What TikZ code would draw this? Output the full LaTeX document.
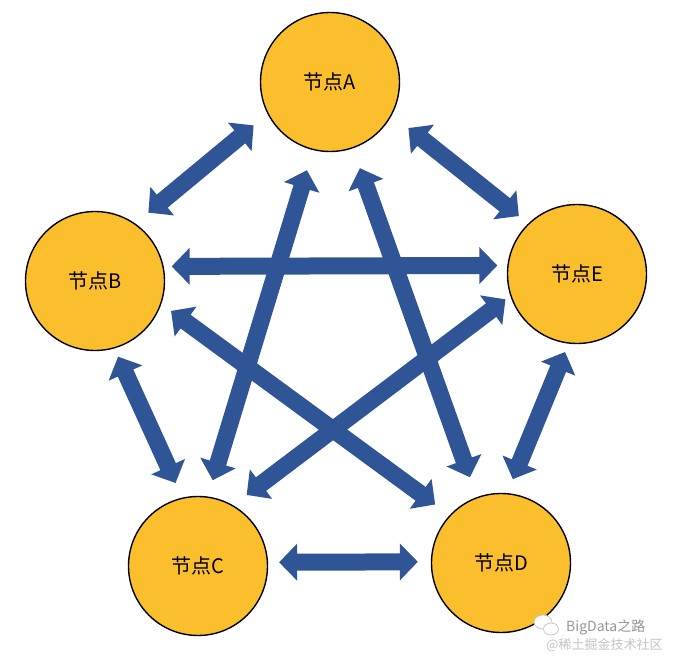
\documentclass[tikz,border=0pt]{standalone}
\usepackage{fontspec}
\setmainfont{Liberation Sans}
\newfontfamily\cjk{Noto Sans CJK SC}
\usetikzlibrary{arrows.meta}
\definecolor{peerGold}{RGB}{251,190,45}
\definecolor{linkBlue}{RGB}{47,85,151}
\definecolor{markGray}{RGB}{150,150,150}
\definecolor{markLight}{RGB}{195,195,195}
\tikzset{
  peer/.style={circle, draw=black, line width=1.4pt, fill=peerGold, minimum size=139pt, inner sep=0pt, font={\cjk\fontsize{20}{23}\selectfont}},
  link/.style={draw=linkBlue, line width=17pt, {Triangle[width=36pt, length=18pt]}-{Triangle[width=36pt, length=18pt]}},
}

\begin{document}
\begin{tikzpicture}[x=1pt,y=-1pt]
\useasboundingbox (0,0) rectangle (678,658);
\node[peer] (A) at (330,82) {节点A};
\node[peer] (B) at (95,281) {节点B};
\node[peer] (E) at (577,274) {节点E};
\node[peer] (C) at (198,566) {节点C};
\node[peer] (D) at (501,563) {节点D};
\draw[link, shorten <=18pt, shorten >=17pt] (A.207) -- (B.55);
\draw[link, shorten <=21pt, shorten >=12pt] (A.332) -- (E.134);
\draw[link, shorten <=8pt, shorten >=10pt] (B.12.4) -- (E.173.4);
\draw[link, shorten <=9pt, shorten >=16pt] (B.286) -- (C.103);
\draw[link, shorten <=9pt, shorten >=15pt] (E.263) -- (D.85);
\draw[link, shorten <=11pt, shorten >=13pt] (C.3) -- (D.179);
\draw[link, shorten <=21pt, shorten >=17pt] (A.256) -- (C.82);
\draw[link, shorten <=21pt, shorten >=21pt] (A.289) -- (D.110);
\draw[link, shorten <=12pt, shorten >=18pt] (B.341) -- (D.137);
\draw[link, shorten <=6pt, shorten >=17pt] (E.198) -- (C.60);
\draw[markLight, fill=white, line width=0.7pt] (543,622) ellipse (9pt and 7pt);
\draw[markLight, fill=white, line width=0.7pt] (551,629) ellipse (7.5pt and 6pt);
\node[text=markGray, font={\cjk\fontsize{14}{16}\selectfont}, anchor=west, inner sep=0pt] (mark) at (566,627) {BigData之路};
\node[text=markLight, font={\cjk\fontsize{13}{15}\selectfont}, anchor=west, inner sep=0pt] (site) at (546,645) {@稀土掘金技术社区};
\end{tikzpicture}
\end{document}
